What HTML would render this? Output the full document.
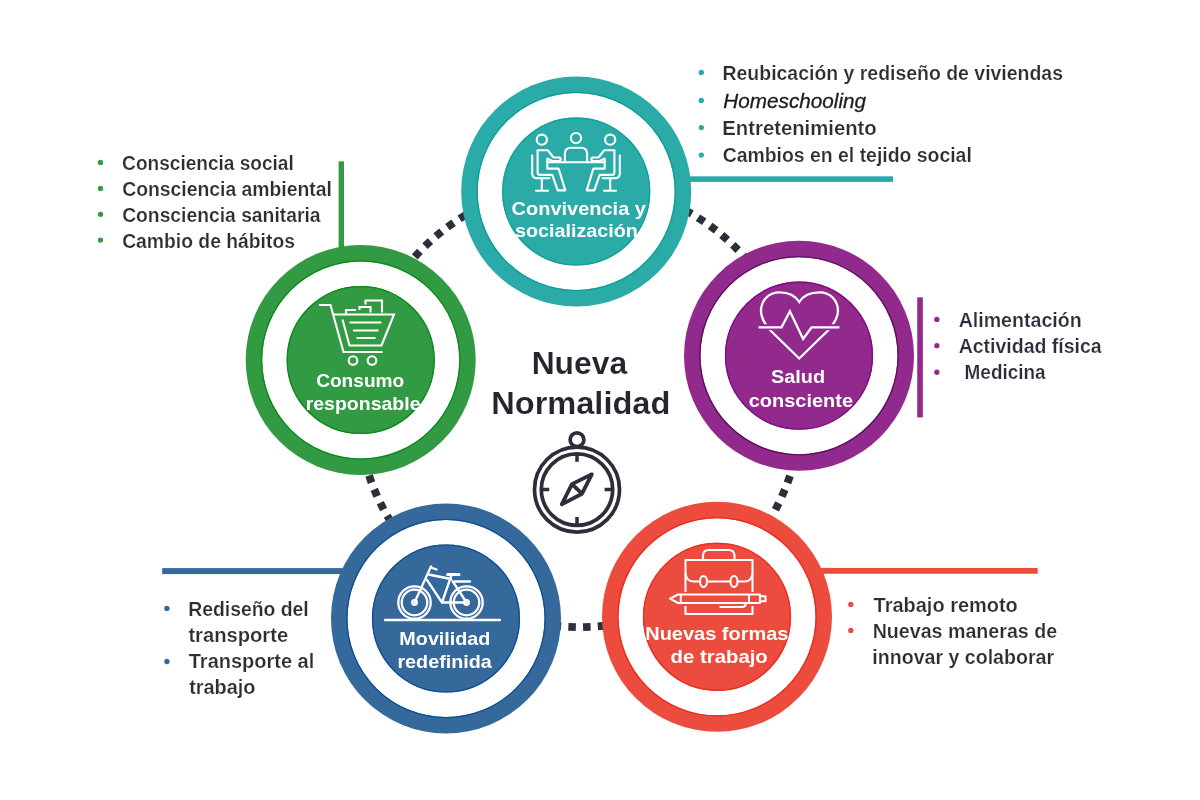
<!DOCTYPE html>
<html><head><meta charset="utf-8">
<style>
html,body{margin:0;padding:0;background:#fff;width:1200px;height:800px;overflow:hidden}
svg{display:block;will-change:transform}
text{font-family:"Liberation Sans",sans-serif}
</style></head>
<body>
<svg width="1200" height="800" viewBox="0 0 1200 800">
<g fill="#2d2e3a"><rect x="-3.75" y="-3.9" width="7.5" height="7.8" transform="translate(383.26 302.03) rotate(-62.2)"/><rect x="-3.75" y="-3.9" width="7.5" height="7.8" transform="translate(390.56 289.21) rotate(-58.4)"/><rect x="-3.75" y="-3.9" width="7.5" height="7.8" transform="translate(398.69 276.91) rotate(-54.6)"/><rect x="-3.75" y="-3.9" width="7.5" height="7.8" transform="translate(407.62 265.18) rotate(-50.8)"/><rect x="-3.75" y="-3.9" width="7.5" height="7.8" transform="translate(417.31 254.06) rotate(-47.0)"/><rect x="-3.75" y="-3.9" width="7.5" height="7.8" transform="translate(427.72 243.61) rotate(-43.2)"/><rect x="-3.75" y="-3.9" width="7.5" height="7.8" transform="translate(438.80 233.88) rotate(-39.4)"/><rect x="-3.75" y="-3.9" width="7.5" height="7.8" transform="translate(450.51 224.91) rotate(-35.6)"/><rect x="-3.75" y="-3.9" width="7.5" height="7.8" transform="translate(462.78 216.73) rotate(-31.8)"/><rect x="-3.75" y="-3.9" width="7.5" height="7.8" transform="translate(475.57 209.39) rotate(-28.0)"/><rect x="-3.75" y="-3.9" width="7.5" height="7.8" transform="translate(488.82 202.91) rotate(-24.2)"/><rect x="-3.75" y="-3.9" width="7.5" height="7.8" transform="translate(502.47 197.33) rotate(-20.3)"/><rect x="-3.75" y="-3.9" width="7.5" height="7.8" transform="translate(516.46 192.66) rotate(-16.5)"/><rect x="-3.75" y="-3.9" width="7.5" height="7.8" transform="translate(633.86 190.23) rotate(14.2)"/><rect x="-3.75" y="-3.9" width="7.5" height="7.8" transform="translate(648.03 194.31) rotate(18.0)"/><rect x="-3.75" y="-3.9" width="7.5" height="7.8" transform="translate(661.90 199.32) rotate(21.8)"/><rect x="-3.75" y="-3.9" width="7.5" height="7.8" transform="translate(675.41 205.25) rotate(25.6)"/><rect x="-3.75" y="-3.9" width="7.5" height="7.8" transform="translate(688.49 212.05) rotate(29.4)"/><rect x="-3.75" y="-3.9" width="7.5" height="7.8" transform="translate(701.09 219.72) rotate(33.2)"/><rect x="-3.75" y="-3.9" width="7.5" height="7.8" transform="translate(713.15 228.20) rotate(37.0)"/><rect x="-3.75" y="-3.9" width="7.5" height="7.8" transform="translate(724.63 237.46) rotate(40.8)"/><rect x="-3.75" y="-3.9" width="7.5" height="7.8" transform="translate(735.46 247.47) rotate(44.6)"/><rect x="-3.75" y="-3.9" width="7.5" height="7.8" transform="translate(745.60 258.17) rotate(48.4)"/><rect x="-3.75" y="-3.9" width="7.5" height="7.8" transform="translate(755.01 269.53) rotate(52.3)"/><rect x="-3.75" y="-3.9" width="7.5" height="7.8" transform="translate(763.65 281.48) rotate(56.1)"/><rect x="-3.75" y="-3.9" width="7.5" height="7.8" transform="translate(771.47 293.98) rotate(59.9)"/><rect x="-3.75" y="-3.9" width="7.5" height="7.8" transform="translate(801.44 407.06) rotate(90.4)"/><rect x="-3.75" y="-3.9" width="7.5" height="7.8" transform="translate(800.84 421.80) rotate(94.3)"/><rect x="-3.75" y="-3.9" width="7.5" height="7.8" transform="translate(799.26 436.46) rotate(98.1)"/><rect x="-3.75" y="-3.9" width="7.5" height="7.8" transform="translate(796.71 450.98) rotate(101.9)"/><rect x="-3.75" y="-3.9" width="7.5" height="7.8" transform="translate(793.19 465.31) rotate(105.7)"/><rect x="-3.75" y="-3.9" width="7.5" height="7.8" transform="translate(788.74 479.37) rotate(109.5)"/><rect x="-3.75" y="-3.9" width="7.5" height="7.8" transform="translate(783.36 493.10) rotate(113.3)"/><rect x="-3.75" y="-3.9" width="7.5" height="7.8" transform="translate(777.08 506.44) rotate(117.1)"/><rect x="-3.75" y="-3.9" width="7.5" height="7.8" transform="translate(769.93 519.34) rotate(120.9)"/><rect x="-3.75" y="-3.9" width="7.5" height="7.8" transform="translate(761.94 531.73) rotate(124.7)"/><rect x="-3.75" y="-3.9" width="7.5" height="7.8" transform="translate(753.14 543.57) rotate(128.5)"/><rect x="-3.75" y="-3.9" width="7.5" height="7.8" transform="translate(743.57 554.79) rotate(132.3)"/><rect x="-3.75" y="-3.9" width="7.5" height="7.8" transform="translate(733.28 565.35) rotate(136.2)"/><rect x="-3.75" y="-3.9" width="7.5" height="7.8" transform="translate(658.81 612.59) rotate(159.1)"/><rect x="-3.75" y="-3.9" width="7.5" height="7.8" transform="translate(644.87 617.39) rotate(162.9)"/><rect x="-3.75" y="-3.9" width="7.5" height="7.8" transform="translate(630.63 621.26) rotate(166.7)"/><rect x="-3.75" y="-3.9" width="7.5" height="7.8" transform="translate(616.18 624.17) rotate(170.5)"/><rect x="-3.75" y="-3.9" width="7.5" height="7.8" transform="translate(601.56 626.12) rotate(174.3)"/><rect x="-3.75" y="-3.9" width="7.5" height="7.8" transform="translate(586.84 627.09) rotate(178.1)"/><rect x="-3.75" y="-3.9" width="7.5" height="7.8" transform="translate(572.10 627.08) rotate(181.9)"/><rect x="-3.75" y="-3.9" width="7.5" height="7.8" transform="translate(557.38 626.10) rotate(185.7)"/><rect x="-3.75" y="-3.9" width="7.5" height="7.8" transform="translate(542.77 624.13) rotate(189.6)"/><rect x="-3.75" y="-3.9" width="7.5" height="7.8" transform="translate(528.31 621.20) rotate(193.4)"/><rect x="-3.75" y="-3.9" width="7.5" height="7.8" transform="translate(514.09 617.32) rotate(197.2)"/><rect x="-3.75" y="-3.9" width="7.5" height="7.8" transform="translate(500.15 612.50) rotate(201.0)"/><rect x="-3.75" y="-3.9" width="7.5" height="7.8" transform="translate(486.56 606.76) rotate(204.8)"/><rect x="-3.75" y="-3.9" width="7.5" height="7.8" transform="translate(425.66 565.13) rotate(223.9)"/><rect x="-3.75" y="-3.9" width="7.5" height="7.8" transform="translate(415.39 554.55) rotate(227.7)"/><rect x="-3.75" y="-3.9" width="7.5" height="7.8" transform="translate(405.84 543.31) rotate(231.5)"/><rect x="-3.75" y="-3.9" width="7.5" height="7.8" transform="translate(397.06 531.46) rotate(235.4)"/><rect x="-3.75" y="-3.9" width="7.5" height="7.8" transform="translate(389.08 519.06) rotate(239.2)"/><rect x="-3.75" y="-3.9" width="7.5" height="7.8" transform="translate(381.95 506.15) rotate(243.0)"/><rect x="-3.75" y="-3.9" width="7.5" height="7.8" transform="translate(375.69 492.80) rotate(246.8)"/><rect x="-3.75" y="-3.9" width="7.5" height="7.8" transform="translate(370.33 479.06) rotate(250.6)"/><rect x="-3.75" y="-3.9" width="7.5" height="7.8" transform="translate(365.90 464.99) rotate(254.4)"/><rect x="-3.75" y="-3.9" width="7.5" height="7.8" transform="translate(362.41 450.66) rotate(258.2)"/><rect x="-3.75" y="-3.9" width="7.5" height="7.8" transform="translate(359.88 436.14) rotate(262.0)"/><rect x="-3.75" y="-3.9" width="7.5" height="7.8" transform="translate(358.32 421.47) rotate(265.8)"/><rect x="-3.75" y="-3.9" width="7.5" height="7.8" transform="translate(357.73 406.74) rotate(269.6)"/></g>
<rect x="600" y="176.3" width="293.1" height="5.6" fill="#2aaba8"/>
<rect x="338.6" y="161.3" width="5.4" height="120" fill="#329a42"/>
<rect x="917.25" y="297.35" width="5.6" height="120.05" fill="#92298c"/>
<rect x="162.2" y="568.1" width="260" height="6" fill="#35699c"/>
<rect x="740" y="567.9" width="297.7" height="5.85" fill="#ec4c3e"/>
<circle cx="576.2" cy="191.5" r="115" fill="#2aaba8"/><circle cx="576.2" cy="191.5" r="98.5" fill="#fff"/><circle cx="576.2" cy="191.5" r="99.15" fill="none" stroke="#109d99" stroke-width="1.3"/><circle cx="576.2" cy="191.5" r="74.1" fill="#2aaba8"/><circle cx="576.2" cy="191.5" r="73.45" fill="none" stroke="#149f9b" stroke-width="1.3"/>
<circle cx="360.7" cy="360" r="115" fill="#329a42"/><circle cx="360.7" cy="360" r="98.5" fill="#fff"/><circle cx="360.7" cy="360" r="99.15" fill="none" stroke="#0b8a1d" stroke-width="1.3"/><circle cx="360.7" cy="360" r="74.1" fill="#329a42"/><circle cx="360.7" cy="360" r="73.45" fill="none" stroke="#0b8a1d" stroke-width="1.3"/>
<circle cx="799" cy="355.7" r="115" fill="#92298c"/><circle cx="799" cy="355.7" r="98.5" fill="#fff"/><circle cx="799" cy="355.7" r="99.15" fill="none" stroke="#5c105c" stroke-width="1.3"/><circle cx="799" cy="355.7" r="74.1" fill="#92298c"/><circle cx="799" cy="355.7" r="73.45" fill="none" stroke="#7e0d80" stroke-width="1.3"/>
<circle cx="446" cy="618.5" r="115" fill="#35699c"/><circle cx="446" cy="618.5" r="98.5" fill="#fff"/><circle cx="446" cy="618.5" r="99.15" fill="none" stroke="#114e94" stroke-width="1.3"/><circle cx="446" cy="618.5" r="74.1" fill="#35699c"/><circle cx="446" cy="618.5" r="73.45" fill="none" stroke="#114e94" stroke-width="1.3"/>
<circle cx="717" cy="616.8" r="115" fill="#ec4c3e"/><circle cx="717" cy="616.8" r="98.5" fill="#fff"/><circle cx="717" cy="616.8" r="99.15" fill="none" stroke="#ee2a1e" stroke-width="1.3"/><circle cx="717" cy="616.8" r="74.1" fill="#ec4c3e"/><circle cx="717" cy="616.8" r="73.45" fill="none" stroke="#ee2a1e" stroke-width="1.3"/>
<!-- teal people icon -->
<g transform="translate(528 128)" fill="none" stroke="#fff" stroke-width="2.1" stroke-linejoin="round" stroke-linecap="round">
<circle cx="13.8" cy="11.7" r="5.1"/>
<circle cx="48" cy="10.1" r="5.1"/>
<circle cx="82.2" cy="11.7" r="5.1"/>
<path d="M36.9,33.5 V26 Q36.9,19.7 43,19.7 H53 Q59.1,19.7 59.1,26 V33.5"/>
<path d="M19.3,34.3 H76.7"/>
<g id="pl">
<path d="M9.6,22.2 H19.7 L25.5,29.5 H31.8 Q33.6,31.3 31.8,33.1 H24.5 L19.3,30.5 V40.6 H30.6 L37.3,62.4 H29.7 L24.3,46.9 H12 Q9.6,46.9 9.6,44.4 Z"/>
<path d="M4.2,27.6 V45.2 Q4.2,50.3 9.4,50.3 H21.4"/>
<path d="M13.8,50.3 V62.8 M8,62.8 H20.1"/>
</g>
<g transform="translate(96 0) scale(-1 1)">
<path d="M9.6,22.2 H19.7 L25.5,29.5 H31.8 Q33.6,31.3 31.8,33.1 H24.5 L19.3,30.5 V40.6 H30.6 L37.3,62.4 H29.7 L24.3,46.9 H12 Q9.6,46.9 9.6,44.4 Z"/>
<path d="M4.2,27.6 V45.2 Q4.2,50.3 9.4,50.3 H21.4"/>
<path d="M13.8,50.3 V62.8 M8,62.8 H20.1"/>
</g>
</g>
<!-- cart icon -->
<g transform="translate(310 290)" fill="none" stroke="#fff" stroke-width="2.1" stroke-linejoin="miter" stroke-linecap="butt">
<path d="M9,15 H20.5 L33.5,62 H72.5"/>
<path d="M23.2,24.5 H84 L71.5,55.5 H39.5 L32.5,29.5"/>
<path d="M39.5,32.5 H71.5 M43,40.5 H68.5 M46.5,48 H65.5"/>
<circle cx="43" cy="70.5" r="4.3"/>
<circle cx="62" cy="70.5" r="4.3"/>
<path d="M36,24 V20 H46"/>
<path d="M49.5,20 V17 H60.5 V22.5"/>
<path d="M55.5,14.5 V10.5 H72 V22.5"/>
</g>
<!-- heart icon -->
<g transform="translate(750 280)" fill="none" stroke-linejoin="miter" stroke-linecap="butt">
<path stroke="#fff" stroke-width="2.3" d="M49.2,22 C45,15 38,12.3 29.5,12.3 C18.5,12.3 11,20.5 11,31 C11,37.5 14,43 19.5,49.5 L49.2,78.5 L79,49.5 C84.5,43 88,37.5 88,31 C88,20.5 80.5,12.3 69.5,12.3 C61,12.3 53.5,15 49.2,22 Z"/>
<path stroke="#92298c" stroke-width="6" d="M8.5,47.3 H31.5 L39.9,31.3 L53.1,59 L61.6,47.3 H89.5"/>
<path stroke="#fff" stroke-width="2.3" d="M8.5,47.3 H31.5 L39.9,31.3 L53.1,59 L61.6,47.3 H89.5"/>
</g>
<!-- bike icon -->
<g transform="translate(385 555)" fill="none" stroke="#fff" stroke-width="2.3" stroke-linejoin="round" stroke-linecap="round">
<path d="M0,65 H115" stroke-width="2.3"/>
<circle cx="29.5" cy="47.5" r="16.2"/>
<circle cx="29.5" cy="47.5" r="12.8"/>
<circle cx="81.5" cy="47.5" r="16.2"/>
<circle cx="81.5" cy="47.5" r="12.8"/>
<circle cx="29.5" cy="47.5" r="2.3" fill="#35699c"/>
<circle cx="81.5" cy="47.5" r="2.3" fill="#35699c"/>
<path d="M29.5,47.5 L46,11.5 M46,12.5 L51.5,14.5"/>
<path d="M43.5,19.5 L66,24 M42,25 L57,47.5 L66.5,20 M57,47.5 H81.5 L67.5,26"/>
<path d="M62.5,19.5 H74" stroke-width="3"/>
<path d="M70,26.5 H85"/>
</g>
<!-- briefcase icon -->
<g transform="translate(665 540)" fill="none" stroke="#fff" stroke-width="2.1" stroke-linejoin="round" stroke-linecap="butt">
<path d="M20.5,52 V20 H87.5 V52"/>
<path d="M20.5,66 V74 H87.5 V66"/>
<path d="M38,20 V16 Q38,10 44,10 H63.5 Q69.5,10 69.5,16 V20"/>
<path d="M20.5,33 Q21,41.5 29,41.5 H35 M42,41.5 H65.5 M72.5,41.5 H79.5 Q87,41.5 87.5,33"/>
<ellipse cx="38.5" cy="41.5" rx="3.5" ry="5.5"/>
<ellipse cx="69" cy="41.5" rx="3.5" ry="5.5"/>
<path d="M13,54.5 H95 V63 H13 L5,58.7 Z"/>
<path d="M15.8,55 V62.5 M84,54.5 V63"/>
<path d="M95,56.3 H100.5 V61.3 H95"/>
<path d="M54.5,67 H77 Q81,67 81,62.5"/>
</g>

<g fill="none" stroke="#2d2e3a" stroke-width="3.7" stroke-linejoin="round" stroke-linecap="butt">
<circle cx="577" cy="439.8" r="6.9"/>
<circle cx="577" cy="489.6" r="42.5" fill="#fff"/>
<circle cx="577" cy="489.6" r="35.7"/>
<path d="M577,454 V461.8 M577,525 V517 M541.3,489.6 H549.2 M612.7,489.6 H604.6" stroke-width="3.5"/>
<path d="M591.8,474.3 L571.9,484.1 L561.75,504.4 L582,493.7 Z M571.9,484.1 L582,493.7" stroke-width="3.8"/>
</g>

<g fill="#2aaba8"><circle cx="701.3" cy="72.5" r="2.65"/><circle cx="701.3" cy="100.4" r="2.65"/><circle cx="701.3" cy="127.6" r="2.65"/><circle cx="701.3" cy="155.1" r="2.65"/></g>
<g fill="#329a42"><circle cx="100.5" cy="162.5" r="2.65"/><circle cx="100.5" cy="188.4" r="2.65"/><circle cx="100.5" cy="214.3" r="2.65"/><circle cx="100.5" cy="240.1" r="2.65"/></g>
<g fill="#92298c"><circle cx="936.85" cy="319.4" r="2.65"/><circle cx="936.85" cy="345.65" r="2.65"/><circle cx="936.85" cy="372.25" r="2.65"/></g>
<g fill="#ec4c3e"><circle cx="850.8" cy="604.4" r="2.65"/><circle cx="850.8" cy="630.4" r="2.65"/></g>
<g fill="#35699c"><circle cx="166.9" cy="608.4" r="2.65"/><circle cx="166.9" cy="661.5" r="2.65"/></g>
<text x="722.53" y="80.0" textLength="340.45" lengthAdjust="spacingAndGlyphs" style="font-size:20px;font-weight:700;font-style:normal;fill:#2e2e2e;stroke:#fff;stroke-width:0.2">Reubicación y rediseño de viviendas</text>
<text x="723.34" y="107.5" textLength="142.76" lengthAdjust="spacingAndGlyphs" style="font-size:20px;font-weight:400;font-style:italic;fill:#1c1c1c;stroke:#1c1c1c;stroke-width:0.3">Homeschooling</text>
<text x="722.35" y="134.9" textLength="154.41" lengthAdjust="spacingAndGlyphs" style="font-size:20px;font-weight:700;font-style:normal;fill:#2e2e2e;stroke:#fff;stroke-width:0.2">Entretenimiento</text>
<text x="722.67" y="162.1" textLength="249.16" lengthAdjust="spacingAndGlyphs" style="font-size:20px;font-weight:700;font-style:normal;fill:#2e2e2e;stroke:#fff;stroke-width:0.2">Cambios en el tejido social</text>
<text x="122.11" y="170.0" textLength="171.66" lengthAdjust="spacingAndGlyphs" style="font-size:20px;font-weight:700;font-style:normal;fill:#2e2e2e;stroke:#fff;stroke-width:0.2">Consciencia social</text>
<text x="122.16" y="195.9" textLength="209.70" lengthAdjust="spacingAndGlyphs" style="font-size:20px;font-weight:700;font-style:normal;fill:#2e2e2e;stroke:#fff;stroke-width:0.2">Consciencia ambiental</text>
<text x="122.15" y="221.6" textLength="198.36" lengthAdjust="spacingAndGlyphs" style="font-size:20px;font-weight:700;font-style:normal;fill:#2e2e2e;stroke:#fff;stroke-width:0.2">Consciencia sanitaria</text>
<text x="122.16" y="247.8" textLength="172.76" lengthAdjust="spacingAndGlyphs" style="font-size:20px;font-weight:700;font-style:normal;fill:#2e2e2e;stroke:#fff;stroke-width:0.2">Cambio de hábitos</text>
<text x="958.67" y="327.0" textLength="122.99" lengthAdjust="spacingAndGlyphs" style="font-size:20px;font-weight:700;font-style:normal;fill:#2b2d3a;stroke:#fff;stroke-width:0.2">Alimentación</text>
<text x="958.67" y="353.0" textLength="143.02" lengthAdjust="spacingAndGlyphs" style="font-size:20px;font-weight:700;font-style:normal;fill:#2b2d3a;stroke:#fff;stroke-width:0.2">Actividad física</text>
<text x="964.62" y="379.0" textLength="80.91" lengthAdjust="spacingAndGlyphs" style="font-size:20px;font-weight:700;font-style:normal;fill:#2b2d3a;stroke:#fff;stroke-width:0.2">Medicina</text>
<text x="873.57" y="612.0" textLength="144.26" lengthAdjust="spacingAndGlyphs" style="font-size:20px;font-weight:700;font-style:normal;fill:#2e2e2e;stroke:#fff;stroke-width:0.2">Trabajo remoto</text>
<text x="872.67" y="637.5" textLength="184.47" lengthAdjust="spacingAndGlyphs" style="font-size:20px;font-weight:700;font-style:normal;fill:#2e2e2e;stroke:#fff;stroke-width:0.2">Nuevas maneras de</text>
<text x="872.31" y="663.5" textLength="181.78" lengthAdjust="spacingAndGlyphs" style="font-size:20px;font-weight:700;font-style:normal;fill:#2e2e2e;stroke:#fff;stroke-width:0.2">innovar y colaborar</text>
<text x="188.23" y="616.0" textLength="120.51" lengthAdjust="spacingAndGlyphs" style="font-size:20px;font-weight:700;font-style:normal;fill:#2e2e2e;stroke:#fff;stroke-width:0.2">Rediseño del</text>
<text x="188.40" y="641.5" textLength="99.77" lengthAdjust="spacingAndGlyphs" style="font-size:20px;font-weight:700;font-style:normal;fill:#2e2e2e;stroke:#fff;stroke-width:0.2">transporte</text>
<text x="188.77" y="667.5" textLength="125.46" lengthAdjust="spacingAndGlyphs" style="font-size:20px;font-weight:700;font-style:normal;fill:#2e2e2e;stroke:#fff;stroke-width:0.2">Transporte al</text>
<text x="189.17" y="693.5" textLength="66.30" lengthAdjust="spacingAndGlyphs" style="font-size:20px;font-weight:700;font-style:normal;fill:#2e2e2e;stroke:#fff;stroke-width:0.2">trabajo</text>
<text x="531.66" y="373.6" textLength="95.44" lengthAdjust="spacingAndGlyphs" style="font-size:32px;font-weight:700;font-style:normal;fill:#24252f;stroke:#fff;stroke-width:0.15">Nueva</text>
<text x="491.25" y="413.6" textLength="179.09" lengthAdjust="spacingAndGlyphs" style="font-size:32px;font-weight:700;font-style:normal;fill:#24252f;stroke:#fff;stroke-width:0.15">Normalidad</text>
<text x="511.58" y="214.7" textLength="134.35" lengthAdjust="spacingAndGlyphs" style="font-size:19px;font-weight:700;font-style:normal;fill:#fff">Convivencia y</text>
<text x="515.12" y="237.3" textLength="122.69" lengthAdjust="spacingAndGlyphs" style="font-size:19px;font-weight:700;font-style:normal;fill:#fff">socialización</text>
<text x="316.15" y="386.9" textLength="88.15" lengthAdjust="spacingAndGlyphs" style="font-size:19px;font-weight:700;font-style:normal;fill:#fff">Consumo</text>
<text x="305.68" y="410.0" textLength="114.83" lengthAdjust="spacingAndGlyphs" style="font-size:19px;font-weight:700;font-style:normal;fill:#fff">responsable</text>
<text x="770.96" y="383.1" textLength="54.08" lengthAdjust="spacingAndGlyphs" style="font-size:19px;font-weight:700;font-style:normal;fill:#fff">Salud</text>
<text x="748.74" y="406.9" textLength="104.26" lengthAdjust="spacingAndGlyphs" style="font-size:19px;font-weight:700;font-style:normal;fill:#fff">consciente</text>
<text x="399.39" y="644.75" textLength="91.05" lengthAdjust="spacingAndGlyphs" style="font-size:19px;font-weight:700;font-style:normal;fill:#fff">Movilidad</text>
<text x="397.43" y="668.1" textLength="94.39" lengthAdjust="spacingAndGlyphs" style="font-size:19px;font-weight:700;font-style:normal;fill:#fff">redefinida</text>
<text x="645.21" y="639.75" textLength="143.22" lengthAdjust="spacingAndGlyphs" style="font-size:19px;font-weight:700;font-style:normal;fill:#fff">Nuevas formas</text>
<text x="670.50" y="663.1" textLength="97.33" lengthAdjust="spacingAndGlyphs" style="font-size:19px;font-weight:700;font-style:normal;fill:#fff">de trabajo</text>
</svg>
</body></html>
